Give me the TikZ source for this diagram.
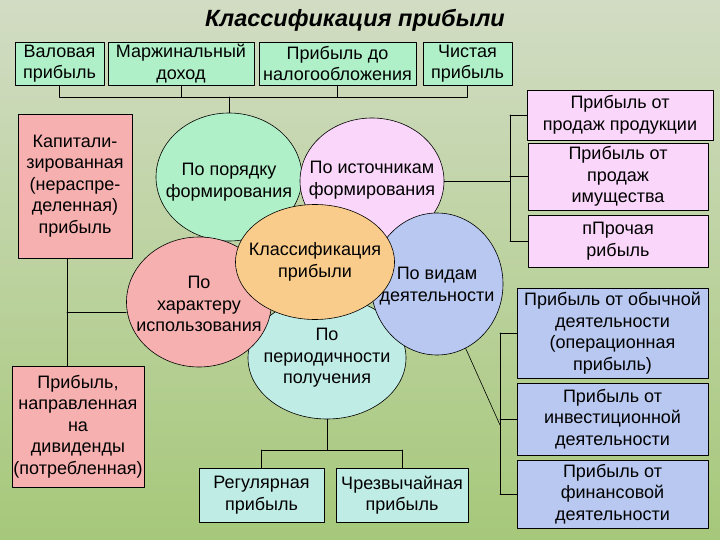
\documentclass[tikz,border=0pt]{standalone}
\usepackage{fontspec}
\setmainfont{Liberation Sans}
\usetikzlibrary{shapes.geometric}
\definecolor{fonTop}{RGB}{210,220,196}
\definecolor{fonBot}{RGB}{166,200,122}
\definecolor{mint}{RGB}{176,240,200}
\definecolor{lilac}{RGB}{250,214,250}
\definecolor{sky}{RGB}{184,200,240}
\definecolor{rose}{RGB}{246,176,176}
\definecolor{aqua}{RGB}{192,236,230}
\definecolor{peach}{RGB}{250,204,140}
\begin{document}
\begin{tikzpicture}[x=1pt,y=-1pt,line join=round,line cap=round,line width=.6pt]
	\tikzset{txt/.style={font=\fontsize{18}{21.5}\selectfont,align=center,inner sep=0pt},
		box/.style={txt,draw},
		oval/.style={draw,ellipse,inner sep=0pt}}
	\shade[top color=fonTop,bottom color=fonBot] (0,0) rectangle (720,540);
	\node[font=\fontsize{23.5}{26}\selectfont\bfseries\itshape] (title) at (355,20) {Классификация прибыли};
	% верхний ряд
	\node[box,fill=mint,minimum width=89,minimum height=43] (val) at (59.5,63.5) {Валовая\\прибыль};
	\node[box,fill=mint,minimum width=146,minimum height=43] (marg) at (181,63.5) {Маржинальный\\доход};
	\node[box,fill=mint,minimum width=157,minimum height=43] (nalog) at (337.5,63.5) {Прибыль до\\налогообложения};
	\node[box,fill=mint,minimum width=89,minimum height=43] (chist) at (467.5,63.5) {Чистая\\прибыль};
	% слева
	\node[box,fill=rose,minimum width=114,minimum height=144] (kap) at (75,186) {Капитали-\\зированная\\(нераспре-\\деленная)\\прибыль};
	\node[box,fill=rose,minimum width=132,minimum height=121] (div) at (78,426.5) {Прибыль,\\направленная\\на\\дивиденды\\(потребленная)};
	% справа
	\node[box,fill=lilac,minimum width=186,minimum height=50] (prod) at (620,115) {Прибыль от\\продаж продукции};
	\node[box,fill=lilac,minimum width=180,minimum height=67] (imu) at (618,176.5) {Прибыль от\\продаж\\имущества};
	\node[box,fill=lilac,minimum width=180,minimum height=52] (proch) at (618,241) {пПрочая\\рибыль};
	\node[box,fill=sky,minimum width=191,minimum height=90] (ord) at (612.5,333) {Прибыль от обычной\\деятельности\\(операционная\\прибыль)};
	\node[box,fill=sky,minimum width=191,minimum height=72] (inv) at (612.5,419) {Прибыль от\\инвестиционной\\деятельности};
	\node[box,fill=sky,minimum width=191,minimum height=68] (fin) at (612.5,494) {Прибыль от\\финансовой\\деятельности};
	% снизу
	\node[box,fill=aqua,minimum width=125,minimum height=54] (reg) at (261.5,495) {Регулярная\\прибыль};
	\node[box,fill=aqua,minimum width=132,minimum height=54] (chr) at (402,495) {Чрезвычайная\\прибыль};
	% круги
	\node[oval,fill=mint,minimum width=146,minimum height=128,label={[txt,yshift=-5pt]center:{По порядку\\формирования}}] (form) at (229,177) {};
	\node[oval,fill=lilac,minimum width=144,minimum height=126,label={[txt,yshift=1pt]center:{По источникам\\формирования}}] (src) at (372,181) {};
	\node[oval,fill=aqua,minimum width=158,minimum height=122,label={[txt]center:{По\\периодичности\\получения}}] (per) at (327,358) {};
	\node[oval,fill=rose,minimum width=145,minimum height=130,label={[txt,yshift=-2pt]center:{По\\характеру\\использования}}] (use) at (199,302) {};
	\node[oval,fill=sky,minimum width=132,minimum height=142,label={[txt,yshift=-2pt]center:{По видам\\деятельности}}] (kind) at (437,284) {};
	\node[oval,fill=peach,minimum width=159,minimum height=115,label={[txt]center:{Классификация\\прибыли}}] (cls) at (315,262) {};
	% линии
	\coordinate (tb) at (229,97);
	\draw (val.south |- tb) -- (chist.south |- tb);
	\foreach \n in {val,marg,nalog,chist}
	\draw (\n.south) -- (\n.south |- tb);
	\draw (tb) -- (form.north);
	\coordinate (jl) at (67,312);
	\draw (kap.south -| jl) -- (div.north -| jl);
	\draw (jl) -- (jl -| use.west);
	\coordinate (rb) at (510,181);
	\draw (src.east) -- (src.east -| rb);
	\draw (prod.west -| rb) -- (proch.west -| rb);
	\foreach \n in {prod,imu,proch}
	\draw (\n.west) -- (\n.west -| rb);
	\coordinate (bb) at (500,425);
	\draw (kind.-66) -- (bb);
	\draw (ord.west -| bb) -- (fin.west -| bb);
	\foreach \n in {ord,inv,fin}
	\draw (\n.west) -- (\n.west -| bb);
	\coordinate (pb) at (327,450);
	\draw (per.south) -- (pb);
	\draw (reg.north |- pb) -- (chr.north |- pb);
	\foreach \n in {reg,chr}
	\draw (\n.north) -- (\n.north |- pb);
\end{tikzpicture}
\end{document}
